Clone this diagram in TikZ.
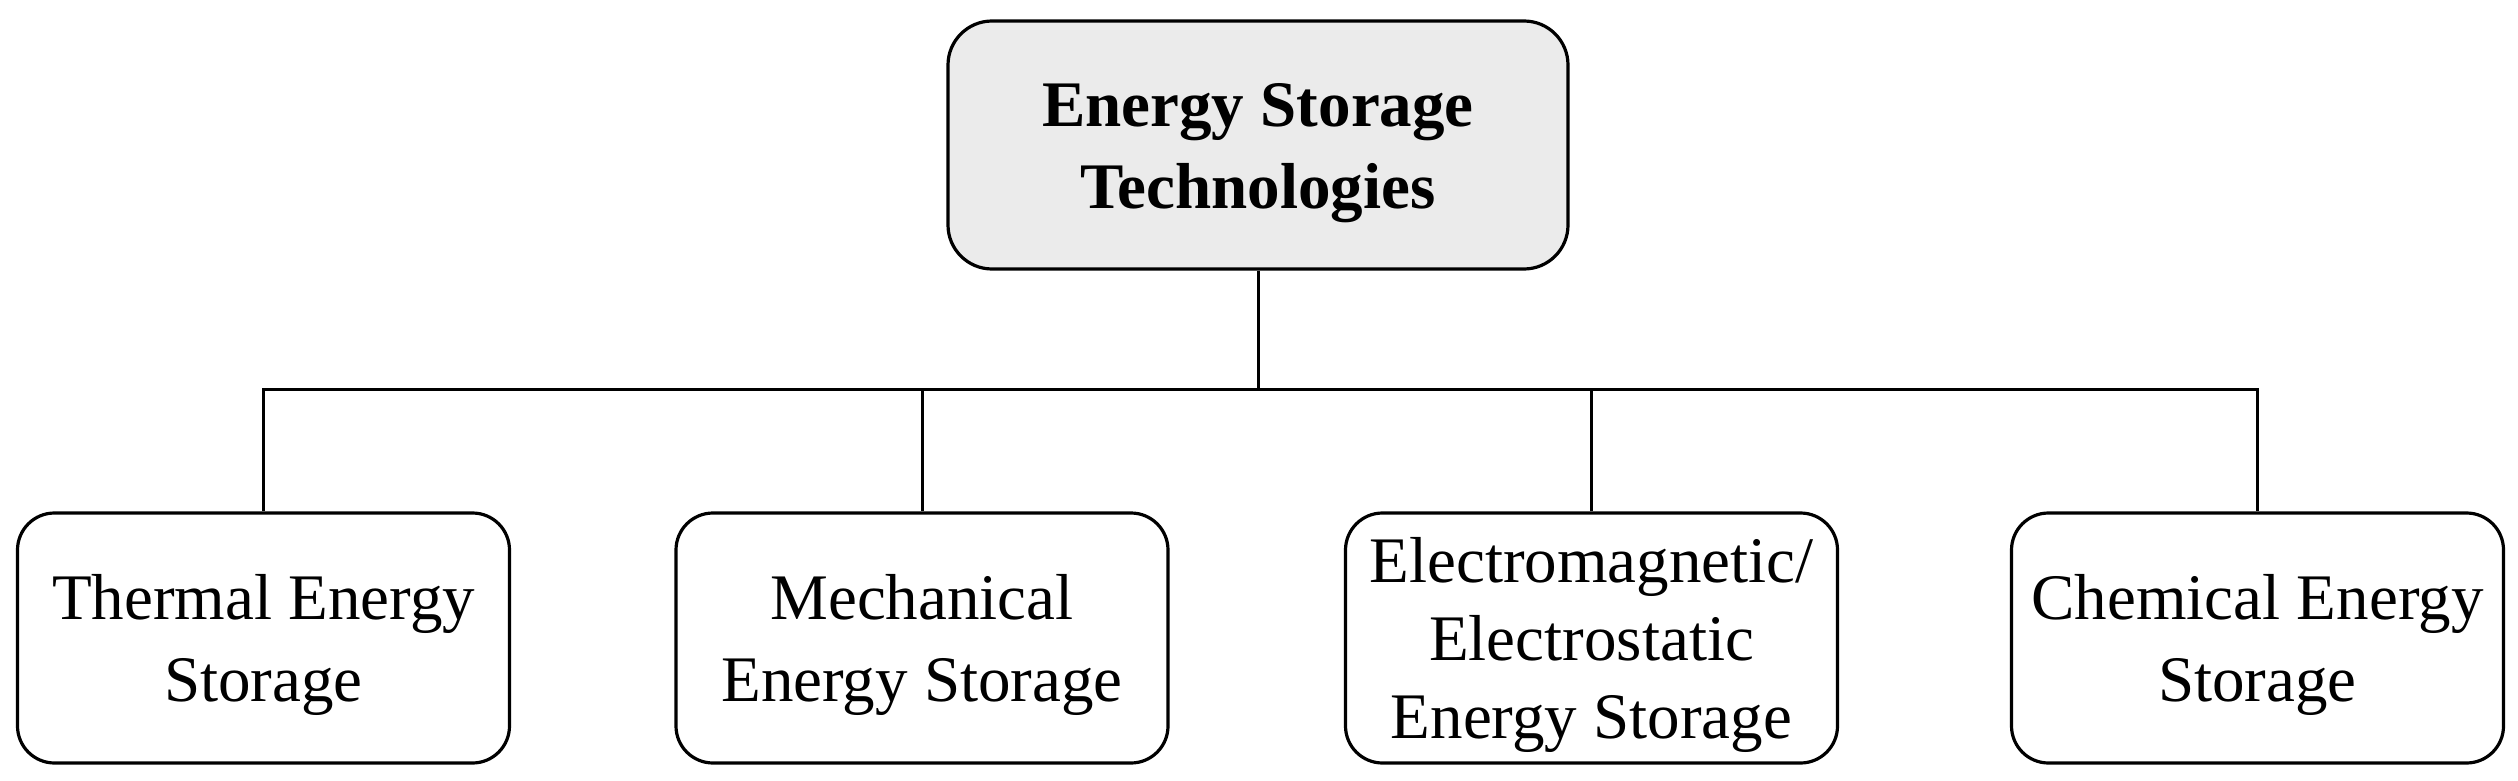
\documentclass[tikz,border=0pt]{standalone}
\usepackage{fontspec}
\setmainfont{Liberation Serif}
\newcommand{\topstrut}{\rule{0pt}{30pt}}
\begin{document}
\begin{tikzpicture}[x=0.5pt,y=-0.5pt,
  topbox/.style={draw=black,line width=1.6pt,fill=black!8,rounded corners=22pt,
    minimum width=310pt,minimum height=124pt,align=center,inner sep=0pt,
    font=\fontsize{32.5}{41}\selectfont\bfseries},
  leafbox/.style={draw=black,line width=1.6pt,fill=white,rounded corners=18.5pt,
    minimum width=246pt,minimum height=125pt,align=center,inner sep=0pt,
    font=\fontsize{32.5}{41}\selectfont},
  conn/.style={line width=1.5pt}]
\useasboundingbox (0,0) rectangle (2518,781);
\node[topbox] (top) at (1258,145) {\topstrut Energy Storage\\Technologies};
\node[leafbox] (l1) at (263.5,638) {\topstrut Thermal Energy\\Storage};
\node[leafbox] (l2) at (922,638) {\topstrut Mechanical\\Energy Storage};
\node[leafbox,font=\fontsize{32.5}{39}\selectfont] (l3) at (1591.5,638) {\topstrut Electromagnetic/\\Electrostatic\\Energy Storage};
\node[leafbox] (l4) at (2257.5,638) {\topstrut Chemical Energy\\Storage};
\coordinate (bus) at (1258,389);
\draw[conn] (top.south) -- (bus);
\draw[conn] (l1.north) |- (bus) -| (l4.north);
\draw[conn] (l2.north) -- (l2.north |- bus);
\draw[conn] (l3.north) -- (l3.north |- bus);
\end{tikzpicture}
\end{document}
